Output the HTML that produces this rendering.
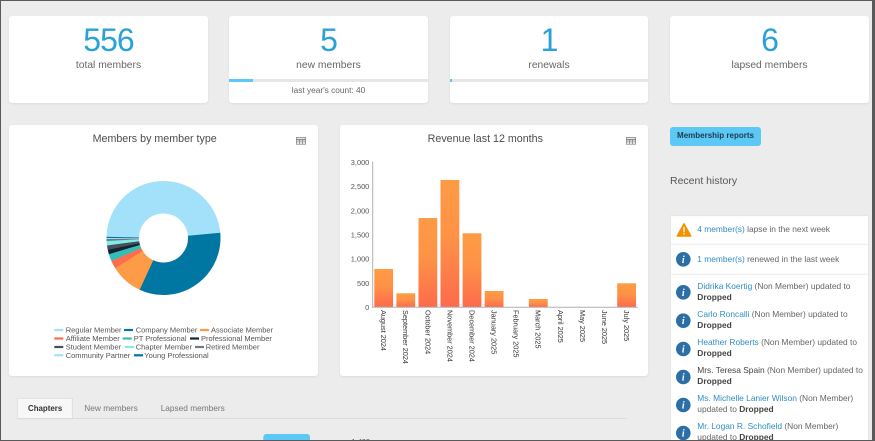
<!DOCTYPE html>
<html><head><meta charset="utf-8">
<style>
*{box-sizing:border-box;margin:0;padding:0}
html,body{width:875px;height:441px;overflow:hidden}
body{background:#ececec;position:relative;font-family:"Liberation Sans",Arial,sans-serif;color:#555}
.abs{position:absolute}
.card{position:absolute;background:#fff;border-radius:3px;box-shadow:0 1px 2px rgba(0,0,0,.07)}
.num{position:absolute;left:0;right:0;text-align:center;font-size:32px;line-height:32px;color:#2aa1d7;letter-spacing:-1px}
.lbl{position:absolute;left:0;right:0;text-align:center;font-size:10.3px;line-height:12px;color:#666}
.bar{position:absolute;left:0;right:0;top:63px;height:3px;background:#e6e6e6}
.bar i{position:absolute;left:0;top:0;height:3px;background:#5bc8f5}
.ttl{position:absolute;font-size:10.7px;line-height:14px;color:#4d4d4d;text-align:center;white-space:nowrap}
.hist{position:absolute;font-size:8.4px;line-height:11.3px;color:#666;white-space:nowrap}
.hist a{color:#2f8dc0;text-decoration:none}
.hist b{color:#444;font-weight:bold}
.frame{position:absolute;left:0;top:0;width:875px;height:441px;border:1px solid #5a5a5a;border-right:3px solid #5a5a5a;pointer-events:none}
</style></head><body>

<div class="card" style="left:9px;top:16px;width:199px;height:87px">
  <div class="num" style="top:8px">556</div>
  <div class="lbl" style="top:44px">total members</div>
</div>
<div class="card" style="left:229px;top:16px;width:199px;height:87px">
  <div class="num" style="top:8px">5</div>
  <div class="lbl" style="top:44px">new members</div>
  <div class="bar"><i style="width:24px"></i></div>
  <div class="lbl" style="top:68px;font-size:8.3px">last year's count: 40</div>
</div>
<div class="card" style="left:450px;top:16px;width:198px;height:87px">
  <div class="num" style="top:8px">1</div>
  <div class="lbl" style="top:44px">renewals</div>
  <div class="bar"><i style="width:1.5px"></i></div>
</div>
<div class="card" style="left:670px;top:16px;width:199px;height:87px">
  <div class="num" style="top:8px">6</div>
  <div class="lbl" style="top:44px">lapsed members</div>
</div>

<div class="card" style="left:9px;top:125px;width:309px;height:251px"></div>
<div class="card" style="left:340px;top:125px;width:308px;height:251px"></div>

<div class="ttl" style="left:54.7px;width:200px;top:131.8px">Members by member type</div>
<div class="ttl" style="left:385.3px;width:200px;top:131.8px">Revenue last 12 months</div>

<svg class="abs" style="left:0;top:0" width="875" height="441" viewBox="0 0 875 441" font-family="Liberation Sans, Arial, sans-serif">
  <defs>
    <linearGradient id="bg" x1="0" y1="0" x2="0" y2="1">
      <stop offset="0" stop-color="#fe9b45"/>
      <stop offset="0.45" stop-color="#fe9246"/>
      <stop offset="1" stop-color="#fe6a4c"/>
    </linearGradient>
  </defs>
  <g fill="none" stroke="#888" stroke-width="0.8">
    <rect x="296.4" y="137.4" width="9.2" height="6.8"/>
    <line x1="296.4" y1="139.6" x2="305.6" y2="139.6" stroke-width="1.6"/>
    <line x1="296.4" y1="141.9" x2="305.6" y2="141.9"/>
    <line x1="299.5" y1="139" x2="299.5" y2="144.2"/>
    <line x1="302.5" y1="139" x2="302.5" y2="144.2"/>
    <rect x="626.4" y="137.4" width="9.2" height="6.8"/>
    <line x1="626.4" y1="139.6" x2="635.6" y2="139.6" stroke-width="1.6"/>
    <line x1="626.4" y1="141.9" x2="635.6" y2="141.9"/>
    <line x1="629.5" y1="139" x2="629.5" y2="144.2"/>
    <line x1="632.5" y1="139" x2="632.5" y2="144.2"/>
  </g>

  <g fill="none" stroke-width="32.5">
    <circle cx="163.5" cy="238" r="40.75" stroke="#a3e1fa" stroke-dasharray="123.6 400" transform="rotate(181.3 163.5 238)"/>
    <circle cx="163.5" cy="238" r="40.75" stroke="#0077a2" stroke-dasharray="85.6 400" transform="rotate(354.7 163.5 238)"/>
    <circle cx="163.5" cy="238" r="40.75" stroke="#fd9b47" stroke-dasharray="23.9 400" transform="rotate(114.7 163.5 238)"/>
    <circle cx="163.5" cy="238" r="40.75" stroke="#fe6c4d" stroke-dasharray="5.9 400" transform="rotate(148 163.5 238)"/>
    <circle cx="163.5" cy="238" r="40.75" stroke="#36bdb5" stroke-dasharray="5.5 400" transform="rotate(156 163.5 238)"/>
    <circle cx="163.5" cy="238" r="40.75" stroke="#0f2535" stroke-dasharray="3.4 400" transform="rotate(163.5 163.5 238)"/>
    <circle cx="163.5" cy="238" r="40.75" stroke="#4a4e5a" stroke-dasharray="3.4 400" transform="rotate(168 163.5 238)"/>
    <circle cx="163.5" cy="238" r="40.75" stroke="#80ede4" stroke-dasharray="3.4 400" transform="rotate(172.5 163.5 238)"/>
    <circle cx="163.5" cy="238" r="40.75" stroke="#6d7886" stroke-dasharray="1.6 400" transform="rotate(177 163.5 238)"/>
    <circle cx="163.5" cy="238" r="40.75" stroke="#a3e1fa" stroke-dasharray="0.9 400" transform="rotate(179 163.5 238)"/>
    <circle cx="163.5" cy="238" r="40.75" stroke="#0077a2" stroke-dasharray="0.95 400" transform="rotate(180 163.5 238)"/>
  </g>

  <g stroke-width="2.2">
    <line x1="54.3" y1="330" x2="63.3" y2="330" stroke="#a3e1fa"/>
    <line x1="124" y1="330" x2="133" y2="330" stroke="#0077a2"/>
    <line x1="200" y1="330" x2="209" y2="330" stroke="#fd9b47"/>
    <line x1="54.3" y1="338.5" x2="63.3" y2="338.5" stroke="#fe6c4d"/>
    <line x1="122.7" y1="338.5" x2="131.7" y2="338.5" stroke="#36bdb5"/>
    <line x1="190" y1="338.5" x2="199" y2="338.5" stroke="#0f2535"/>
    <line x1="54.3" y1="347" x2="63.3" y2="347" stroke="#4a4e5a"/>
    <line x1="125" y1="347" x2="134" y2="347" stroke="#80ede4"/>
    <line x1="195" y1="347" x2="204" y2="347" stroke="#6d7886"/>
    <line x1="54.3" y1="355.3" x2="63.3" y2="355.3" stroke="#a3e1fa"/>
    <line x1="134" y1="355.3" x2="143" y2="355.3" stroke="#0077a2"/>
  </g>
  <g font-size="7.5" fill="#555">
    <text x="65.7" y="332.7">Regular Member</text>
    <text x="135.7" y="332.7">Company Member</text>
    <text x="211" y="332.7">Associate Member</text>
    <text x="65.7" y="341.2">Affiliate Member</text>
    <text x="133.7" y="341.2">PT Professional</text>
    <text x="201" y="341.2">Professional Member</text>
    <text x="65.7" y="349.7">Student Member</text>
    <text x="135.7" y="349.7">Chapter Member</text>
    <text x="205.7" y="349.7">Retired Member</text>
    <text x="65.7" y="358">Community Partner</text>
    <text x="144.3" y="358">Young Professional</text>
  </g>

  <g fill="url(#bg)">
    <rect x="374.3" y="269" width="18.8" height="38.3"/>
    <rect x="396.4" y="293.3" width="18.8" height="14"/>
    <rect x="418.5" y="218" width="18.8" height="89.3"/>
    <rect x="440.5" y="180" width="18.8" height="127.3"/>
    <rect x="462.6" y="233.3" width="18.8" height="74"/>
    <rect x="484.7" y="291" width="18.8" height="16.3"/>
    <rect x="528.9" y="299" width="18.8" height="8.3"/>
    <rect x="617.2" y="283.3" width="18.8" height="24"/>
  </g>
  <g stroke="#b0b0b0" stroke-width="1">
    <line x1="372.7" y1="161.5" x2="372.7" y2="307.8"/>
    <line x1="372.2" y1="307.3" x2="637.7" y2="307.3"/>
  </g>
  <g font-size="7.4" fill="#555" text-anchor="end">
    <text x="369.3" y="164.9">3,000</text>
    <text x="369.3" y="189.1">2,500</text>
    <text x="369.3" y="213.3">2,000</text>
    <text x="369.3" y="237.4">1,500</text>
    <text x="369.3" y="261.6">1,000</text>
    <text x="369.3" y="285.8">500</text>
    <text x="369.3" y="309.9">0</text>
  </g>
  <g font-size="7.3" fill="#333">
    <text transform="translate(381.1 310) rotate(90)">August 2024</text>
    <text transform="translate(403.2 310) rotate(90)">September 2024</text>
    <text transform="translate(425.3 310) rotate(90)">October 2024</text>
    <text transform="translate(447.4 310) rotate(90)">November 2024</text>
    <text transform="translate(469.4 310) rotate(90)">December 2024</text>
    <text transform="translate(491.5 310) rotate(90)">January 2025</text>
    <text transform="translate(513.6 310) rotate(90)">February 2025</text>
    <text transform="translate(535.7 310) rotate(90)">March 2025</text>
    <text transform="translate(557.8 310) rotate(90)">April 2025</text>
    <text transform="translate(579.9 310) rotate(90)">May 2025</text>
    <text transform="translate(602.0 310) rotate(90)">June 2025</text>
    <text transform="translate(624.0 310) rotate(90)">July 2025</text>
  </g>

  <rect x="17.3" y="398.3" width="55" height="20.5" fill="#f7f7f7" stroke="#dcdcdc" stroke-width="0.8"/>
  <line x1="17" y1="418.5" x2="627" y2="418.5" stroke="#dcdcdc" stroke-width="1"/>
  <text x="28" y="411.2" font-size="7.9" font-weight="bold" fill="#333">Chapters</text>
  <text x="84.3" y="411.2" font-size="8.3" fill="#777">New members</text>
  <text x="160.7" y="411.2" font-size="8.3" fill="#777">Lapsed members</text>
  <rect x="263.3" y="434" width="46.7" height="14" rx="3" fill="#5bc8f5"/>
  <text x="351.5" y="443.8" font-size="7.4" fill="#555">1,400</text>

  <rect x="670.5" y="215.7" width="198" height="240" fill="#fff" stroke="#e3e3e3" stroke-width="0.8"/>
  <line x1="670.5" y1="244.3" x2="868.5" y2="244.3" stroke="#ececec"/>
  <line x1="670.5" y1="274.3" x2="868.5" y2="274.3" stroke="#ececec"/>
  <path d="M684 223.6 L691 236.2 L677 236.2 Z" fill="#f39200" stroke="#f39200" stroke-width="1.2" stroke-linejoin="round"/>
  <rect x="683.35" y="227" width="1.3" height="5.2" fill="#fff"/>
  <rect x="683.35" y="233.2" width="1.3" height="1.3" fill="#fff"/>
  <g fill="#2c6ea6">
    <circle cx="683.3" cy="259.3" r="7.3"/>
    <circle cx="683.3" cy="292.3" r="7.3"/>
    <circle cx="683.3" cy="320.7" r="7.3"/>
    <circle cx="683.3" cy="349" r="7.3"/>
    <circle cx="683.3" cy="377" r="7.3"/>
    <circle cx="683.3" cy="405" r="7.3"/>
    <circle cx="683.3" cy="433" r="7.3"/>
  </g>
  <g fill="#fff" font-family="Liberation Serif, serif" font-style="italic" font-weight="bold" font-size="10" text-anchor="middle">
    <text x="683.3" y="262.8">i</text>
    <text x="683.3" y="295.8">i</text>
    <text x="683.3" y="324.2">i</text>
    <text x="683.3" y="352.5">i</text>
    <text x="683.3" y="380.5">i</text>
    <text x="683.3" y="408.5">i</text>
    <text x="683.3" y="436.5">i</text>
  </g>
</svg>

<div class="abs" style="left:670px;top:127.3px;width:91px;height:18.4px;background:#5bc8f5;border-radius:3px;font-size:8px;font-weight:bold;color:#1d3b4f;line-height:18.4px;text-align:center;white-space:nowrap">Membership reports</div>
<div class="abs" style="left:670px;top:175px;font-size:10.5px;line-height:13px;color:#555;white-space:nowrap">Recent history</div>

<div class="hist" style="left:697.3px;top:224.2px;line-height:11px"><a>4 member(s)</a> lapse in the next week</div>
<div class="hist" style="left:697.3px;top:253.5px;line-height:11px"><a>1 member(s)</a> renewed in the last week</div>

<div class="hist" style="left:697.3px;top:281px"><a>Didrika Koertig</a> (Non Member) updated to<br><b>Dropped</b></div>
<div class="hist" style="left:697.3px;top:308.6px"><a>Carlo Roncalli</a> (Non Member) updated to<br><b>Dropped</b></div>
<div class="hist" style="left:697.3px;top:336.6px"><a>Heather Roberts</a> (Non Member) updated to<br><b>Dropped</b></div>
<div class="hist" style="left:697.3px;top:364.6px"><span style="color:#444">Mrs. Teresa Spain</span> (Non Member) updated to<br><b>Dropped</b></div>
<div class="hist" style="left:697.3px;top:392.6px"><a>Ms. Michelle Lanier Wilson</a> (Non Member)<br>updated to <b>Dropped</b></div>
<div class="hist" style="left:697.3px;top:421px"><a>Mr. Logan R. Schofield</a> (Non Member)<br>updated to <b>Dropped</b></div>

<div class="frame"></div>
</body></html>
